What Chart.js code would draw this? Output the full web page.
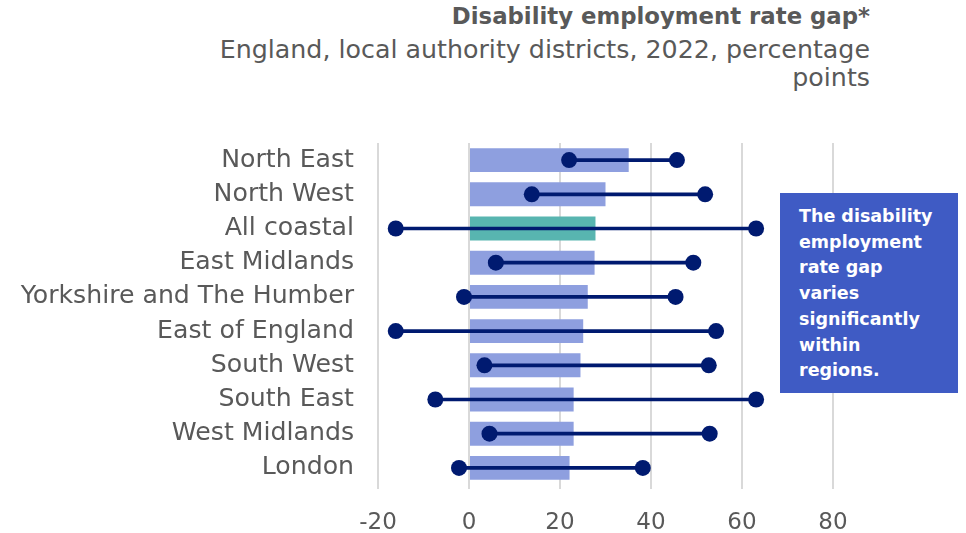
<!DOCTYPE html>
<html lang="en">
<head>
  <meta charset="UTF-8" />
  <title>Disability employment rate gap</title>
  <script src="https://cdn.jsdelivr.net/npm/chart.js"></script>
  <style>
    html, body { margin: 0; padding: 0; background: #fff; }
    body { width: 966px; height: 533px; position: relative; overflow: hidden;
           font-family: 'DejaVu Sans', sans-serif; color: #595959; }
    #chart { position: absolute; left: 0; top: 0; }
    .head { position: absolute; right: 96px; text-align: right; white-space: nowrap; }
    .title { top: 3px; font-size: 22.8px; font-weight: bold; }
    .sub { top: 36px; font-size: 25.3px; line-height: 28px; }
    .note {
      position: absolute; left: 780px; top: 193px; width: 178px; height: 200px;
      background: #3F5BC4; color: #fff; font-weight: bold; font-size: 17.5px;
      line-height: 25.7px; box-sizing: border-box; padding: 11px 6px 0 19px;
      white-space: nowrap;
    }
  </style>
</head>
<body>
  <div class="head title">Disability employment rate gap*</div>
  <div class="head sub">England, local authority districts, 2022, percentage<br>points</div>
  <canvas id="chart" width="966" height="533"></canvas>
  <div class="note">The disability<br>employment<br>rate gap<br>varies<br>significantly<br>within<br>regions.</div>

  <script>
    // regions, top to bottom
    const regions = ['North East', 'North West', 'All coastal', 'East Midlands',
      'Yorkshire and The Humber', 'East of England', 'South West', 'South East',
      'West Midlands', 'London'];
    // regional gap (bar)
    const gap = [35.1, 30.0, 27.8, 27.6, 26.1, 25.1, 24.5, 23.0, 23.0, 22.1];
    // lowest and highest district in each region
    const lowest = [22.0, 13.8, -16.1, 5.9, -1.1, -16.1, 3.4, -7.4, 4.5, -2.2];
    const highest = [45.7, 51.9, 63.1, 49.3, 45.4, 54.3, 52.7, 63.1, 52.9, 38.2];
    const xTicks = [-20, 0, 20, 40, 60, 80];

    const navy = '#001A70';
    const barColors = regions.map(r => r === 'All coastal' ? '#58B5B0' : '#8E9FDF');
    const font = { family: "'DejaVu Sans', sans-serif", size: 25.2 };

    new Chart(document.getElementById('chart'), {
      type: 'bar',
      data: {
        labels: regions,
        datasets: [
          { label: 'Gap', data: gap, backgroundColor: barColors,
            barPercentage: 0.7, categoryPercentage: 1, grouped: false, order: 4 },
          { label: 'Range', data: regions.map((_, i) => [lowest[i], highest[i]]),
            backgroundColor: navy, barThickness: 3, grouped: false, order: 3 },
          { type: 'line', label: 'Lowest', data: lowest, showLine: false,
            pointRadius: 8, pointBackgroundColor: navy, pointBorderWidth: 0, order: 1 },
          { type: 'line', label: 'Highest', data: highest, showLine: false,
            pointRadius: 8, pointBackgroundColor: navy, pointBorderWidth: 0, order: 1 }
        ]
      },
      options: {
        indexAxis: 'y',
        responsive: false,
        animation: false,
        layout: { padding: { top: 143, right: 133, left: 0, bottom: 0 } },
        plugins: { legend: { display: false }, tooltip: { enabled: false } },
        scales: {
          x: {
            min: -20, max: 80,
            afterBuildTicks: s => { s.ticks = xTicks.map(v => ({ value: v })); },
            afterFit: s => { s.height = 48; },
            grid: { color: '#D9D9D9', lineWidth: 2, drawTicks: true, tickLength: 4 },
            border: { display: false },
            ticks: { color: '#595959', font: { ...font, size: 23 }, padding: 20 }
          },
          y: {
            afterFit: s => { s.width = 378; },
            grid: { display: false },
            border: { display: false },
            ticks: { color: '#595959', font: font, padding: 16 }
          }
        }
      }
    });
  </script>
</body>
</html>
